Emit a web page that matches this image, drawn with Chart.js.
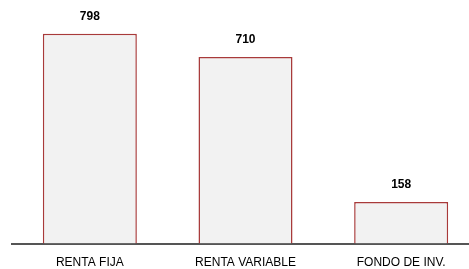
<!DOCTYPE html>
<html>
<head>
<meta charset="utf-8">
<script src="https://cdn.jsdelivr.net/npm/chart.js@4"></script>
<style>
  html, body { margin: 0; padding: 0; background: #fff; overflow: hidden; }
  #wrap { width: 469px; height: 269px; overflow: hidden; }
</style>
</head>
<body>
<div id="wrap"><canvas id="chart" width="480" height="282"></canvas></div>
<script>
const categories = ["RENTA FIJA", "RENTA VARIABLE", "FONDO DE INV."];
const values = [798, 710, 158];

// value labels above each bar
const barLabels = {
  id: "barLabels",
  afterDatasetsDraw(chart) {
    const ctx = chart.ctx;
    const meta = chart.getDatasetMeta(0);
    ctx.save();
    ctx.font = "bold 12px 'Liberation Sans', Arial, sans-serif";
    ctx.fillStyle = "#000";
    ctx.textAlign = "center";
    ctx.textBaseline = "middle";
    meta.data.forEach((bar, i) => {
      ctx.fillText(values[i], bar.x, bar.y - 17);
    });
    ctx.restore();
  }
};

new Chart(document.getElementById("chart"), {
  type: "bar",
  data: {
    labels: categories,
    datasets: [{
      data: values,
      backgroundColor: "#f2f2f2",
      borderColor: "#a83a3a",
      borderWidth: 1.5,
      borderSkipped: "bottom",
      categoryPercentage: 1,
      barPercentage: 0.604
    }]
  },
  options: {
    responsive: false,
    animation: false,
    layout: { padding: { left: 12, right: 1, top: 7, bottom: 0 } },
    plugins: { legend: { display: false }, tooltip: { enabled: false } },
    scales: {
      x: {
        grid: { display: false, drawTicks: false, tickLength: 0 },
        border: { display: true, color: "#555", width: 2 },
        ticks: {
          padding: 12,
          color: "#000",
          font: { family: "'Liberation Sans', Arial, sans-serif", size: 12 },
          maxRotation: 0
        }
      },
      y: { display: false, min: 0, max: 900 }
    }
  },
  plugins: [barLabels]
});
</script>
</body>
</html>
